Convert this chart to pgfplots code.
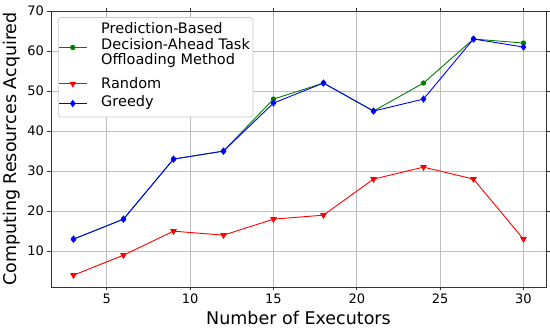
\documentclass[border=0pt]{standalone}
\usepackage{pgfplots}
\pgfplotsset{compat=1.18}
\usepackage{fontspec}
\setmainfont{DejaVu Sans}
\definecolor{mplgreen}{RGB}{0,128,0}
\definecolor{mplred}{RGB}{255,0,0}
\definecolor{mplblue}{RGB}{0,0,255}
\begin{document}
\begin{tikzpicture}
\begin{axis}[name=ax, scale only axis, width=495pt, height=276pt,
  xmin=1.65, xmax=31.35, ymin=1.05, ymax=70,
  xtick={5,10,...,30}, ytick={10,20,...,70},
  grid=major, grid style={black!25, line width=0.8pt},
  axis line style={black!80, line width=0.8pt},
  tick align=outside, major tick length=3.5pt, tick style={black!80, line width=0.8pt},
  ticklabel style={font=\fontsize{13}{15}\selectfont},
  /pgf/number format/assume math mode=true,
  xlabel={Number of Executors}, ylabel={Computing Resources Acquired},
  label style={font=\fontsize{17.5}{20}\selectfont},
  legend style={at={(axis description cs:0.014,0.978)}, anchor=north west,
    draw=black!20, line width=0.8pt, rounded corners=3pt,
    font=\fontsize{14.5}{15.5}\selectfont, row sep=1pt,
    inner xsep=0pt, inner ysep=3pt,
    nodes={inner xsep=3pt}},
  legend cell align=left,
  legend image code/.code={%
    \draw[mark repeat=2, mark phase=2] plot coordinates {(0pt,0pt) (14pt,0pt) (28pt,0pt)};
    \path (39pt,0pt);},
  every axis plot/.append style={line width=0.9pt},
]
\addplot[mplgreen, mark=*, mark size=2.2pt] coordinates {(3,13) (6,18) (9,33) (12,35) (15,48) (18,52) (21,45) (24,52) (27,63) (30,62)};
\addlegendentry[text height=27pt, text depth=23pt]{\begin{tabular}{@{}l@{}}Prediction-Based\\Decision-Ahead Task\\Offloading Method\end{tabular}}
\addplot[mplred, mark=triangle*, mark size=3pt, mark options={rotate=180}] coordinates {(3,4) (6,9) (9,15) (12,14) (15,18) (18,19) (21,28) (24,31) (27,28) (30,13)};
\addlegendentry{Random}
\addplot[mplblue, mark=diamond*, mark size=3pt] coordinates {(3,13) (6,18) (9,33) (12,35) (15,47) (18,52) (21,45) (24,48) (27,63) (30,61)};
\addlegendentry[text depth=6pt]{Greedy}
\end{axis}
\pgfresetboundingbox
\path (ax.south west) ++(-51pt,-45pt) coordinate (bl);
\path (ax.north east) ++(4pt,11pt) coordinate (tr);
\path[use as bounding box] (bl) rectangle (tr);
\end{tikzpicture}
\end{document}
